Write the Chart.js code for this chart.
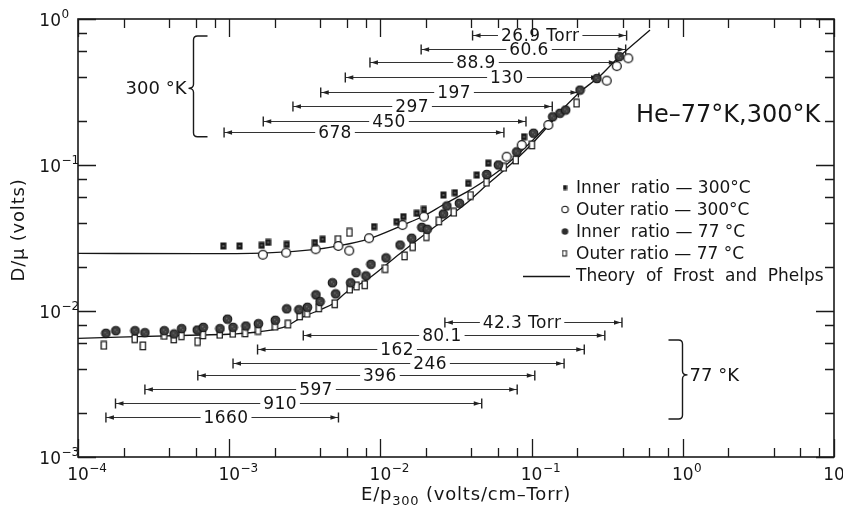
<!DOCTYPE html>
<html><head><meta charset="utf-8">
<script src="https://cdn.jsdelivr.net/npm/chart.js@4/dist/chart.umd.min.js"></script>
<style>html,body{margin:0;padding:0;background:#fff}canvas{display:block}</style>
</head><body>
<canvas id="c" width="843" height="512"></canvas>
<script>
// ---------------- data ----------------
const xMin = 1e-4, xMax = 10, yMin = 1e-3, yMax = 1;
const xTickExps = [-4, -3, -2, -1, 0, 1];
const yTickExps = [0, -1, -2, -3];
const minorMantissas = [2, 4, 6, 8];

// Inner ratio - 300 (filled squares)
const inner300X = [9.14e-4, 1.17e-3, 1.64e-3, 1.81e-3, 2.40e-3, 3.69e-3, 4.15e-3, 9.08e-3, 0.0128, 0.0142, 0.0174, 0.0194, 0.0261, 0.0311, 0.0381, 0.0434, 0.0517, 0.0891];
const inner300Y = [0.0279, 0.0279, 0.0282, 0.0295, 0.0286, 0.0294, 0.0310, 0.0378, 0.0409, 0.0443, 0.0467, 0.0497, 0.0623, 0.0646, 0.0749, 0.0854, 0.103, 0.156];
// Outer ratio - 300 (open circles)
const outer300X = [1.67e-3, 2.38e-3, 3.73e-3, 5.27e-3, 6.22e-3, 8.41e-3, 0.0140, 0.0194, 0.0684, 0.0860, 0.129, 0.314, 0.366, 0.436];
const outer300Y = [0.0243, 0.0251, 0.0265, 0.0279, 0.0259, 0.0315, 0.0388, 0.0443, 0.114, 0.137, 0.188, 0.378, 0.476, 0.538];
// Inner ratio - 77 (dark circles)
const inner77X = [1.53e-4, 1.78e-4, 2.38e-4, 2.77e-4, 3.72e-4, 4.32e-4, 4.85e-4, 6.15e-4, 6.74e-4, 8.69e-4, 9.74e-4, 1.06e-3, 1.29e-3, 1.56e-3, 2.02e-3, 2.40e-3, 2.89e-3, 3.29e-3, 3.75e-3, 3.99e-3, 4.82e-3, 5.06e-3, 6.36e-3, 6.90e-3, 8.03e-3, 8.66e-3, 0.0109, 0.0135, 0.0161, 0.0188, 0.0204, 0.0261, 0.0275, 0.0333, 0.0505, 0.0603, 0.0797, 0.103, 0.138, 0.154, 0.168, 0.209, 0.270, 0.380];
const inner77Y = [7.04e-3, 7.33e-3, 7.33e-3, 7.10e-3, 7.33e-3, 6.96e-3, 7.57e-3, 7.41e-3, 7.73e-3, 7.57e-3, 8.79e-3, 7.73e-3, 7.89e-3, 8.18e-3, 8.64e-3, 0.01035, 0.0102, 0.0106, 0.0129, 0.0116, 0.0156, 0.0131, 0.0156, 0.0183, 0.0174, 0.0209, 0.0231, 0.0283, 0.0315, 0.0374, 0.0363, 0.0462, 0.0524, 0.0547, 0.0861, 0.100, 0.123, 0.165, 0.214, 0.226, 0.238, 0.326, 0.391, 0.552];
// Outer ratio - 77 (open squares)
const outer77X = [1.49e-4, 2.38e-4, 2.70e-4, 3.73e-4, 4.32e-4, 4.85e-4, 6.20e-4, 6.74e-4, 8.69e-4, 1.06e-3, 1.28e-3, 1.56e-3, 2.02e-3, 2.46e-3, 2.94e-3, 3.29e-3, 3.94e-3, 5.01e-3, 6.29e-3, 6.97e-3, 7.91e-3, 0.0108, 0.0145, 0.0164, 0.0202, 0.0245, 0.0307, 0.0396, 0.0505, 0.0657, 0.0788, 0.101, 0.199, 5.27e-3, 6.26e-3];
const outer77Y = [5.81e-3, 6.46e-3, 5.76e-3, 6.80e-3, 6.43e-3, 6.76e-3, 6.17e-3, 6.85e-3, 6.91e-3, 7.02e-3, 7.07e-3, 7.35e-3, 7.86e-3, 8.12e-3, 9.24e-3, 9.64e-3, 0.0105, 0.0112, 0.0141, 0.0148, 0.0151, 0.0195, 0.0238, 0.0276, 0.0323, 0.0413, 0.0474, 0.0617, 0.0761, 0.0964, 0.108, 0.137, 0.265, 0.0308, 0.0345];
// Theory of Frost and Phelps
const theory300X = [1e-4, 6.4e-4, 1.67e-3, 3.75e-3, 5.25e-3, 8.28e-3, 0.0141, 0.0191, 0.0259, 0.0392, 0.0618, 0.0975, 0.154, 0.209, 0.283, 0.372, 0.607];
const theory300Y = [0.0248, 0.0247, 0.0249, 0.0264, 0.0279, 0.0311, 0.0388, 0.0444, 0.0532, 0.0675, 0.0925, 0.1415, 0.231, 0.316, 0.407, 0.541, 0.841];
const theory77X = [1e-4, 6.4e-4, 1.06e-3, 1.60e-3, 2.40e-3, 2.94e-3, 3.99e-3, 4.86e-3, 5.98e-3, 8.10e-3, 0.0135, 0.0223, 0.0372, 0.0505, 0.0684, 0.0975, 0.154];
const theory77Y = [0.0065, 0.00685, 0.00696, 0.00721, 0.00789, 0.00891, 0.0102, 0.0112, 0.0135, 0.0163, 0.0248, 0.0370, 0.0549, 0.0730, 0.0954, 0.135, 0.228];

// E/p ranges covered at each pressure (Torr)
const pressure300 = [26.9, 60.6, 88.9, 130, 197, 297, 450, 678];
const range300Lo = [0.0407, 0.0186, 0.00853, 0.00586, 0.00403, 0.00264, 0.00168, 0.000925];
const range300Hi = [0.425, 0.419, 0.366, 0.279, 0.204, 0.137, 0.0918, 0.0656];
const range300LabelAt = [0.114, 0.0962, 0.0429, 0.0687, 0.0307, 0.0162, 0.0114, 0.00501];
const range300Level = [0.777, 0.620, 0.504, 0.399, 0.315, 0.254, 0.1995, 0.1675];

const pressure77 = [42.3, 80.1, 162, 246, 396, 597, 910, 1660];
const range77Lo = [0.0267, 0.00309, 0.00154, 0.00106, 0.000620, 0.000277, 0.000177, 0.000153];
const range77Hi = [0.396, 0.305, 0.223, 0.164, 0.105, 0.0803, 0.0468, 0.00528];
const range77LabelAt = [0.0865, 0.0255, 0.0129, 0.0213, 0.00993, 0.00375, 0.00217, 0.000953];
const range77Level = [0.00845, 0.0069, 0.00547, 0.00439, 0.00367, 0.00294, 0.002335, 0.001874];

// ---------------- layout / style ----------------
const FF = '"DejaVu Sans", "Liberation Sans", sans-serif';
const INK = '#151515';
const brace300 = {x: 5.74e-4, top: 0.765, bottom: 0.156, mid: 0.335, dir: 1, label: '300 °K'};
const brace77 = {x: 0.985, top: 0.00633, bottom: 0.00182, mid: 0.00365, dir: -1, label: '77 °K'};

function zip(xs, ys) { return xs.map((v, i) => ({x: v, y: ys[i]})); }
function mk(w, h, draw) { const c = document.createElement('canvas'); c.width = w; c.height = h; draw(c.getContext('2d')); return c; }
function spacing(ctx, v) { if ('letterSpacing' in ctx) ctx.letterSpacing = v; }

const mFilledSq = mk(7, 8, g => { g.fillStyle = '#1a1a1a'; g.fillRect(0.5, 0.5, 6, 7); g.fillStyle = '#5a5a5a'; g.fillRect(2.5, 3, 2, 2); });
const mOpenCirc = mk(12, 12, g => { g.beginPath(); g.arc(6, 6, 4.4, 0, Math.PI * 2); g.fillStyle = '#fff'; g.fill(); g.lineWidth = 1.3; g.strokeStyle = '#111'; g.stroke(); });
const mDarkCirc = mk(11, 11, g => { g.beginPath(); g.arc(5.5, 5.5, 4.3, 0, Math.PI * 2); g.fillStyle = '#3e3e3e'; g.fill(); g.lineWidth = 1.1; g.strokeStyle = '#141414'; g.stroke(); g.fillStyle = '#6a6a6a'; g.fillRect(4, 4, 1.5, 1.5); g.fillRect(6, 6, 1.2, 1.2); });
const mOpenRect = mk(8, 10, g => { g.fillStyle = '#fff'; g.fillRect(1, 1, 6, 8); g.lineWidth = 1.2; g.strokeStyle = '#111'; g.strokeRect(1.1, 1.1, 5.2, 7.6); });

const lFilledSq = mk(5, 6, g => { g.fillStyle = '#1a1a1a'; g.fillRect(0.5, 0.5, 4, 5); });
const lOpenCirc = mk(9, 9, g => { g.beginPath(); g.arc(4.5, 4.5, 3.2, 0, Math.PI * 2); g.fillStyle = '#fff'; g.fill(); g.lineWidth = 1.1; g.strokeStyle = '#111'; g.stroke(); });
const lDarkCirc = mk(9, 9, g => { g.beginPath(); g.arc(4.5, 4.5, 3.3, 0, Math.PI * 2); g.fillStyle = '#2e2e2e'; g.fill(); });
const lOpenRect = mk(7, 8, g => { g.fillStyle = '#fff'; g.fillRect(1, 1, 4, 5); g.lineWidth = 1.1; g.strokeStyle = '#111'; g.strokeRect(1, 1, 4, 5.5); });

function drawRanges(ctx, xs, ys, lo, hi, lev, at, pr) {
  ctx.font = `17px ${FF}`;
  spacing(ctx, '0.4px');
  ctx.textAlign = 'center'; ctx.textBaseline = 'middle';
  for (let i = 0; i < lo.length; i++) {
    const a = xs.getPixelForValue(lo[i]), b = xs.getPixelForValue(hi[i]);
    const y = Math.round(ys.getPixelForValue(lev[i])) + 0.5;
    const c = xs.getPixelForValue(at[i]);
    const label = i === 0 ? pr[i] + ' Torr' : String(pr[i]);
    const w = ctx.measureText(label).width;
    ctx.strokeStyle = '#333'; ctx.lineWidth = 1;
    ctx.beginPath();
    ctx.moveTo(a, y); ctx.lineTo(c - w / 2 - 3, y);
    ctx.moveTo(c + w / 2 + 3, y); ctx.lineTo(b, y);
    ctx.stroke();
    ctx.lineWidth = 1.4; ctx.strokeStyle = '#222';
    ctx.beginPath();
    ctx.moveTo(a, y - 5); ctx.lineTo(a, y + 5);
    ctx.moveTo(b, y - 5); ctx.lineTo(b, y + 5);
    ctx.stroke();
    ctx.fillStyle = '#222';
    ctx.beginPath(); ctx.moveTo(a + 1, y); ctx.lineTo(a + 8, y - 2.2); ctx.lineTo(a + 8, y + 2.2); ctx.closePath(); ctx.fill();
    ctx.beginPath(); ctx.moveTo(b - 1, y); ctx.lineTo(b - 8, y - 2.2); ctx.lineTo(b - 8, y + 2.2); ctx.closePath(); ctx.fill();
    ctx.fillStyle = INK;
    ctx.fillText(label, c, y + 1);
  }
  spacing(ctx, '0px');
}

function drawBrace(ctx, xs, ys, br) {
  const x = Math.round(xs.getPixelForValue(br.x)) + 0.5;
  const yt = ys.getPixelForValue(br.top), yb = ys.getPixelForValue(br.bottom), ym = ys.getPixelForValue(br.mid);
  const d = br.dir, h = 14, r = 4, c = 5;
  ctx.strokeStyle = '#1a1a1a'; ctx.lineWidth = 1.4;
  ctx.beginPath();
  ctx.moveTo(x + d * h, yt);
  ctx.lineTo(x + d * r, yt);
  ctx.quadraticCurveTo(x, yt, x, yt + r);
  ctx.lineTo(x, ym - 4);
  ctx.quadraticCurveTo(x, ym, x - d * c, ym);
  ctx.quadraticCurveTo(x, ym, x, ym + 4);
  ctx.lineTo(x, yb - r);
  ctx.quadraticCurveTo(x, yb, x + d * r, yb);
  ctx.lineTo(x + d * h, yb);
  ctx.stroke();
  ctx.fillStyle = INK; ctx.font = `18px ${FF}`; ctx.textBaseline = 'middle';
  ctx.textAlign = d > 0 ? 'right' : 'left';
  ctx.fillText(br.label, x - d * (c + 2), ym + 1);
}

function expStr(e) { return e < 0 ? '\u2212' + Math.abs(e) : String(e); }

const decor = {
  id: 'decor',
  beforeDatasetsDraw(chart) {
    const {ctx} = chart, xs = chart.scales.x, ys = chart.scales.y;
    ctx.save();
    drawRanges(ctx, xs, ys, range300Lo, range300Hi, range300Level, range300LabelAt, pressure300);
    drawRanges(ctx, xs, ys, range77Lo, range77Hi, range77Level, range77LabelAt, pressure77);
    drawBrace(ctx, xs, ys, brace300);
    drawBrace(ctx, xs, ys, brace77);
    ctx.restore();
  },
  afterDraw(chart) {
    const {ctx, chartArea: ca} = chart, xs = chart.scales.x, ys = chart.scales.y;
    ctx.save();
    // frame
    ctx.strokeStyle = '#1a1a1a'; ctx.lineWidth = 1.6;
    ctx.strokeRect(ca.left, ca.top, ca.right - ca.left, ca.bottom - ca.top);
    // ticks (inward, all four sides)
    ctx.lineWidth = 1.3;
    ctx.beginPath();
    const majL = 18, minL = 9;
    for (let e = -4; e <= 1; e++) {
      const base = Math.pow(10, e);
      const vals = [[base, majL]];
      if (e < 1) minorMantissas.forEach(m => vals.push([m * base, minL]));
      vals.forEach(([v, L]) => {
        const px = Math.round(xs.getPixelForValue(v)) + 0.5;
        ctx.moveTo(px, ca.bottom); ctx.lineTo(px, ca.bottom - L);
        ctx.moveTo(px, ca.top); ctx.lineTo(px, ca.top + L);
      });
    }
    for (let e = -3; e <= 0; e++) {
      const base = Math.pow(10, e);
      const vals = [[base, majL]];
      if (e < 0) minorMantissas.forEach(m => vals.push([m * base, minL]));
      vals.forEach(([v, L]) => {
        const py = Math.round(ys.getPixelForValue(v)) + 0.5;
        ctx.moveTo(ca.left, py); ctx.lineTo(ca.left + L, py);
        ctx.moveTo(ca.right, py); ctx.lineTo(ca.right - L, py);
      });
    }
    ctx.stroke();
    // tick labels
    ctx.fillStyle = INK; ctx.textAlign = 'left'; ctx.textBaseline = 'alphabetic';
    xTickExps.forEach(e => {
      const px = xs.getPixelForValue(Math.pow(10, e));
      ctx.font = `17px ${FF}`;
      const wb = ctx.measureText('10').width;
      const bx = px - wb / 2;
      ctx.fillText('10', bx, 480);
      ctx.font = `12px ${FF}`;
      ctx.fillText(expStr(e), bx + wb + 0.5, 472);
    });
    yTickExps.forEach(e => {
      const py = ys.getPixelForValue(Math.pow(10, e));
      ctx.font = `17px ${FF}`;
      const wb = ctx.measureText('10').width;
      const bx = 61 - wb;
      ctx.fillText('10', bx, py + 6.5);
      ctx.font = `12px ${FF}`;
      ctx.fillText(expStr(e), 61.5, py - 1);
    });
    // axis titles
    spacing(ctx, '0.8px');
    ctx.font = `18px ${FF}`;
    const t1 = 'E/p', t2 = '300', t3 = ' (volts/cm\u2013Torr)';
    const w1 = ctx.measureText(t1).width, w3 = ctx.measureText(t3).width;
    ctx.font = `13px ${FF}`; const w2 = ctx.measureText(t2).width;
    let tx = 466 - (w1 + w2 + w3) / 2;
    ctx.font = `18px ${FF}`; ctx.fillText(t1, tx, 500); tx += w1;
    ctx.font = `13px ${FF}`; ctx.fillText(t2, tx, 505); tx += w2;
    ctx.font = `18px ${FF}`; ctx.fillText(t3, tx, 500);
    ctx.save();
    ctx.translate(19, 230); ctx.rotate(-Math.PI / 2);
    ctx.textAlign = 'center'; ctx.textBaseline = 'middle';
    ctx.fillText('D/\u03bc (volts)', 0, 0);
    ctx.restore();
    spacing(ctx, '0px');
    // title inside plot
    ctx.font = `24px ${FF}`; ctx.textAlign = 'left';
    ctx.fillText('He\u201377°K,300°K', 636, 122);
    // legend
    const ds = chart.data.datasets;
    const rows = [
      {i: 5, m: lFilledSq, y: 187.5},
      {i: 4, m: lOpenCirc, y: 209.5},
      {i: 3, m: lDarkCirc, y: 231.5},
      {i: 2, m: lOpenRect, y: 253.5},
      {i: 0, m: null, y: 276}
    ];
    ctx.font = `17px ${FF}`; ctx.textBaseline = 'middle';
    rows.forEach(r => {
      if (r.m) ctx.drawImage(r.m, 565 - r.m.width / 2, r.y - r.m.height / 2);
      else { ctx.strokeStyle = INK; ctx.lineWidth = 1.3; ctx.beginPath(); ctx.moveTo(523, r.y + 0.5); ctx.lineTo(570, r.y + 0.5); ctx.stroke(); }
      ctx.fillText(ds[r.i].label, 576, r.y + 1);
    });
    ctx.restore();
  }
};

new Chart(document.getElementById('c'), {
  type: 'scatter',
  data: {
    datasets: [
      {label: 'Theory  of  Frost  and  Phelps', type: 'line', data: zip(theory300X, theory300Y), borderColor: INK, borderWidth: 1.3, pointRadius: 0, cubicInterpolationMode: 'monotone', fill: false, order: 10},
      {label: 'Theory  of  Frost  and  Phelps', type: 'line', data: zip(theory77X, theory77Y), borderColor: INK, borderWidth: 1.3, pointRadius: 0, cubicInterpolationMode: 'monotone', fill: false, order: 10},
      {label: 'Outer ratio \u2014 77 °C', data: zip(outer77X, outer77Y), pointStyle: mOpenRect, pointRadius: 4, order: 4},
      {label: 'Inner  ratio \u2014 77 °C', data: zip(inner77X, inner77Y), pointStyle: mDarkCirc, pointRadius: 4, order: 3},
      {label: 'Outer ratio \u2014 300°C', data: zip(outer300X, outer300Y), pointStyle: mOpenCirc, pointRadius: 4, order: 2},
      {label: 'Inner  ratio \u2014 300°C', data: zip(inner300X, inner300Y), pointStyle: mFilledSq, pointRadius: 4, order: 1}
    ]
  },
  options: {
    responsive: false, animation: false, devicePixelRatio: 1,
    layout: {padding: {left: 78, right: 9, top: 19, bottom: 55}},
    plugins: {legend: {display: false}, tooltip: {enabled: false}},
    scales: {
      x: {type: 'logarithmic', min: xMin, max: xMax, display: false},
      y: {type: 'logarithmic', min: yMin, max: yMax, display: false}
    }
  },
  plugins: [decor]
});
</script>
</body></html>
